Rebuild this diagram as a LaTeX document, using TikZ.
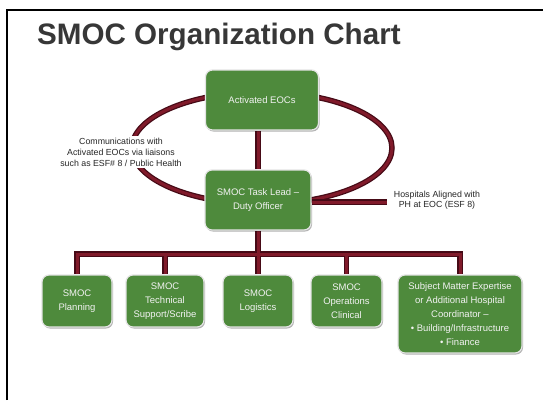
\documentclass[tikz,border=0pt]{standalone}
\usepackage{fontspec}
\setmainfont{Liberation Sans}
\usetikzlibrary{shadows,backgrounds,calc}
\definecolor{boxgreen}{RGB}{78,138,60}
\definecolor{rimgray}{RGB}{228,228,228}
\definecolor{maroonin}{RGB}{128,26,42}
\definecolor{maroonout}{RGB}{70,10,22}
\definecolor{titlegray}{RGB}{55,55,55}
\begin{document}
\begin{tikzpicture}[x=1pt,y=-1pt,
  orgbox/.style={draw=rimgray, line width=1.2pt, fill=boxgreen, rounded corners=7pt,
    text=white!95!black, align=center, font=\fontsize{9.5}{14}\selectfont, inner sep=2pt,
    drop shadow={shadow xshift=1pt, shadow yshift=-1.5pt, fill=black, opacity=0.3}},
  conn/.style={draw=maroonin, line width=3pt, preaction={draw=maroonout, line width=5.5pt}},
  note/.style={align=center, font=\fontsize{8.8}{11}\selectfont, text=black!85}]
\useasboundingbox (0,0) rectangle (543,400);
% title
\node[anchor=base west, font=\fontsize{29.6}{30}\selectfont\bfseries, text=titlegray, inner sep=0pt] (title) at (37,44) {SMOC Organization Chart};
% boxes
\node[orgbox, minimum width=113pt, minimum height=60pt] (act) at (262,100) {Activated EOCs};
\node[orgbox, minimum width=106pt, minimum height=60pt] (lead) at (258,200) {SMOC Task Lead –\\Duty Officer};
\node[orgbox, minimum width=70pt, minimum height=52pt] (plan) at (77,301) {SMOC\\Planning};
\node[orgbox, minimum width=78pt, minimum height=52pt] (tech) at (165,301) {SMOC\\Technical\\Support/Scribe};
\node[orgbox, minimum width=70pt, minimum height=52pt] (log) at (258,301) {SMOC\\Logistics};
\node[orgbox, minimum width=71pt, minimum height=52pt] (ops) at (346.5,301) {SMOC\\Operations\\Clinical};
\node[orgbox, minimum width=124pt, minimum height=78pt] (sme) at (460,314) {Subject Matter Expertise\\or Additional Hospital\\Coordinator –\\• Building/Infrastructure\\• Finance};
% notes
\node[note, fill=white, inner sep=1.5pt] (comms) at (121,152) {Communications with\\Activated EOCs via liaisons\\such as ESF\# 8 / Public Health};
\node[note, font=\fontsize{8.8}{10}\selectfont] (hosp) at (437,200.5) {Hospitals Aligned with\\PH at EOC (ESF 8)};
\coordinate (bar) at (258,254);
\coordinate (hend) at (387,202);
\begin{scope}[on background layer]
  \fill[white] (0,0) rectangle (543,400);
  \draw[line width=2pt] (7,400) -- (7,10) -- (543,10);
  \draw[conn] (262,148) ellipse [x radius=130pt, y radius=56pt];
  \draw[conn] (act.south -| lead.north) -- (lead.north);
  \draw[conn] (lead.east |- hend) -- (hend);
  \draw[conn] (plan.north) |- (bar) -| (sme.north)
              (tech.north) -- (tech.north |- bar)
              (ops.north) -- (ops.north |- bar)
              (lead.south) -- (log.north);
\end{scope}
\end{tikzpicture}
\end{document}
